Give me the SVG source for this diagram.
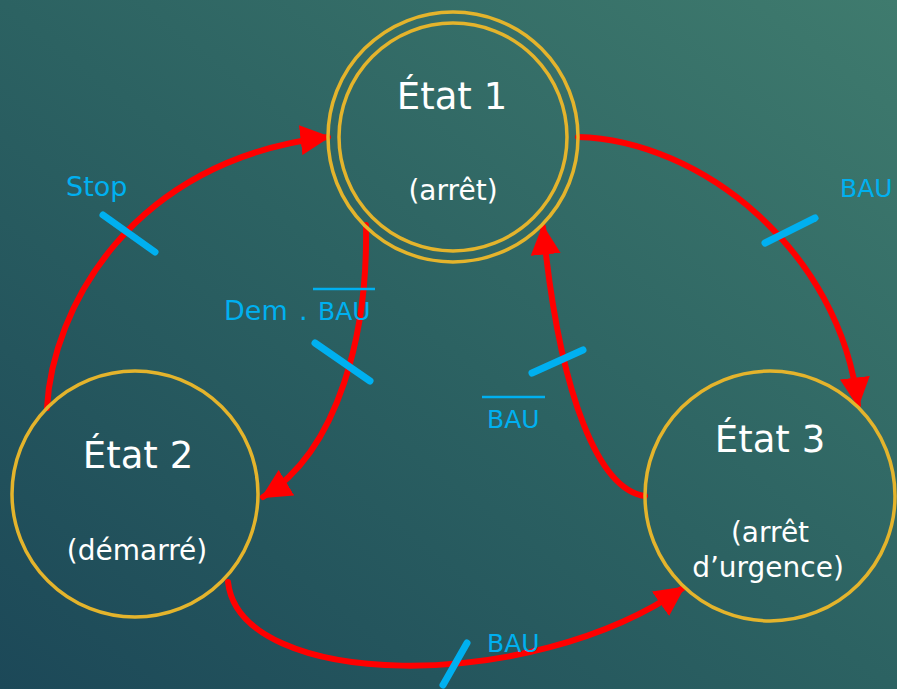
<svg xmlns="http://www.w3.org/2000/svg" width="897" height="689" viewBox="0 0 897 689">
<defs>
<linearGradient id="bg" x1="0" y1="1" x2="1" y2="0">
<stop offset="0" stop-color="#1c4858"/>
<stop offset="0.5" stop-color="#2c6262"/>
<stop offset="1" stop-color="#3f7b6e"/>
</linearGradient>
<marker id="arr" markerUnits="userSpaceOnUse" markerWidth="30" markerHeight="30" viewBox="0 0 24 24" refX="22" refY="12" orient="auto">
<path d="M0,0 L24,12 L0,24 Z" fill="#ff0000"/>
</marker>
<style>
.st{fill:none;stroke:#e4b42c;stroke-width:3.5}
.tr{fill:none;stroke:#ff0000;stroke-width:6;stroke-linecap:round}
.tk{stroke:#00b0f0;stroke-width:7;stroke-linecap:round}
.ti{font-family:"DejaVu Sans",sans-serif;font-size:37px;fill:#ffffff;text-anchor:middle}
.sub{font-family:"DejaVu Sans",sans-serif;font-size:28px;fill:#ffffff;text-anchor:middle}
.lb{font-family:"DejaVu Sans",sans-serif;font-size:25px;fill:#00b0f0}
.ov{stroke:#00b0f0;stroke-width:2.5}
</style>
</defs>
<rect width="897" height="689" fill="url(#bg)"/>
<g id="connectors">
<path class="tr" d="M47,408 C52,310 130,160 328,137" marker-end="url(#arr)"/>
<path class="tr" d="M578,137 C700,140 840,250 858,405" marker-end="url(#arr)"/>
<path class="tr" d="M366,225 C368,330 340,450 263,497" marker-end="url(#arr)"/>
<path class="tr" d="M645,496 C600,490 560,400 543,227" marker-end="url(#arr)"/>
<path class="tr" d="M228,582 C240,690 530,695 683,588" marker-end="url(#arr)"/>
<line class="tk" x1="103" y1="215" x2="155" y2="252"/>
<line class="tk" x1="765" y1="243" x2="815" y2="218"/>
<line class="tk" x1="315" y1="343" x2="370" y2="381"/>
<line class="tk" x1="532" y1="373" x2="583" y2="350"/>
<line class="tk" x1="467" y1="643" x2="443" y2="685"/>
<text class="lb" x="66" y="196" style="font-size:27px">Stop</text>
<text class="lb" x="840" y="197">BAU</text>
<text class="lb" x="224" y="320" style="font-size:27px">Dem <tspan x="299">.</tspan></text>
<text class="lb" x="318" y="320">BAU</text>
<line class="ov" x1="313" y1="289" x2="375" y2="289"/>
<text class="lb" x="487" y="428">BAU</text>
<line class="ov" x1="482" y1="397" x2="545" y2="397"/>
<text class="lb" x="487" y="652">BAU</text>
</g>
<g id="etat1">
<circle class="st" cx="453" cy="137" r="125"/>
<circle class="st" cx="453" cy="137" r="114"/>
<text class="ti" x="452" y="109">État 1</text>
<text class="sub" x="453" y="200">(arrêt)</text>
</g>
<g id="etat2">
<circle class="st" cx="135" cy="494" r="123"/>
<text class="ti" x="138" y="468">État 2</text>
<text class="sub" x="137" y="560">(démarré)</text>
</g>
<g id="etat3">
<circle class="st" cx="770" cy="496" r="125"/>
<text class="ti" x="770" y="452">État 3</text>
<text class="sub" x="770" y="542">(arrêt</text>
<text class="sub" x="768" y="577">d’urgence)</text>
</g>
</svg>
